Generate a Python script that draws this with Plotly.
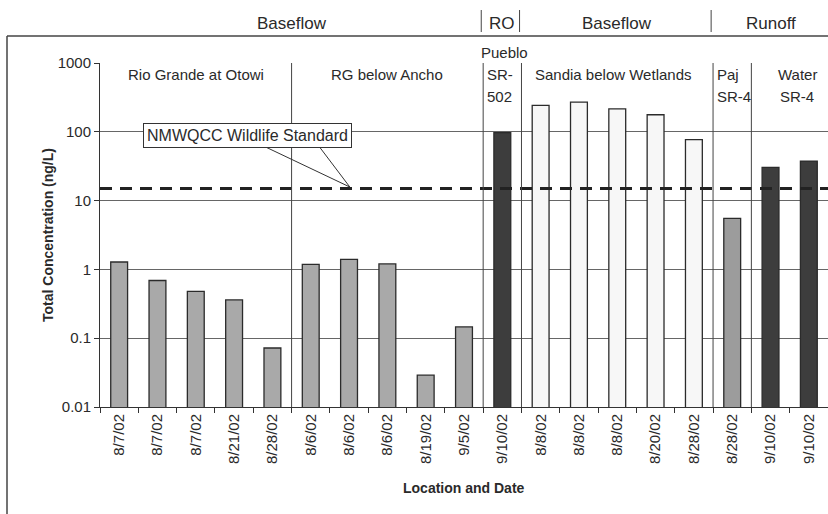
import plotly.graph_objects as go

# ---------------- data ----------------
dates = ["8/7/02", "8/7/02", "8/7/02", "8/21/02", "8/28/02",
         "8/6/02", "8/6/02", "8/6/02", "8/19/02", "9/5/02",
         "9/10/02",
         "8/8/02", "8/8/02", "8/8/02", "8/20/02", "8/28/02",
         "8/28/02",
         "9/10/02", "9/10/02"]
values = [1.28, 0.69, 0.48, 0.36, 0.072,
          1.18, 1.4, 1.2, 0.029, 0.146,
          97,
          242, 270, 215, 177, 77,
          5.5,
          30.5, 37.5]
bar_kind = ["rg"] * 10 + ["dark"] + ["white"] * 5 + ["paj"] + ["dark"] * 2
standard_value = 15
standard_label = "NMWQCC Wildlife Standard"

# location sections: (first index, last index, label lines)
sections = [(0, 4, "Rio Grande at Otowi"),
            (5, 9, "RG below Ancho"),
            (10, 10, "Pueblo SR-502"),
            (11, 15, "Sandia below Wetlands"),
            (16, 16, "Paj SR-4"),
            (17, 18, "Water SR-4")]
# flow regimes: (first index, last index, label)
regimes = [(0, 9, "Baseflow"), (10, 10, "RO"), (11, 15, "Baseflow"), (16, 18, "Runoff")]

y_ticks = [0.01, 0.1, 1, 10, 100, 1000]
y_ticktext = ["0.01", "0.1", "1", "10", "100", "1000"]

colors = {"rg": "#a9a9a9", "dark": "#3d3d3d", "white": "#f7f7f7", "paj": "#9c9c9c"}

# ---------------- figure geometry helpers ----------------
W, H = 828, 514
L, R, T, B = 100, 0, 63, 107
PH = H - T - B
PW = W - L - R


def py(pix):  # pixel y -> paper y
    return (H - B - pix) / PH


def px(pix):  # pixel x -> paper x
    return (pix - L) / PW


FONT = "Liberation Sans, Arial, sans-serif"
TXT = "#2a2a2a"

x = list(range(len(values)))
fig = go.Figure()
fig.add_trace(go.Bar(
    x=x, y=values, width=0.44,
    marker=dict(color=[colors[k] for k in bar_kind],
                line=dict(color="#2b2b2b", width=1.3)),
    showlegend=False,
))

shapes = []
annotations = []


def note(**kw):
    kw.setdefault("showarrow", False)
    kw.setdefault("yanchor", "middle")
    annotations.append(kw)


# dashed standard line
shapes.append(dict(type="line", xref="paper", yref="y", x0=0, x1=1,
                   y0=standard_value, y1=standard_value,
                   line=dict(color="#222", width=3, dash="12px,8px")))

# vertical section dividers inside plot
for s in sections[1:]:
    b = s[0] - 0.5
    shapes.append(dict(type="line", xref="x", yref="paper", x0=b, x1=b, y0=0, y1=1,
                       line=dict(color="#444", width=1)))

# outer border (top and left)
shapes.append(dict(type="line", xref="paper", yref="paper", x0=px(7), x1=1.01,
                   y0=py(36), y1=py(36), line=dict(color="#444", width=1.5)))
shapes.append(dict(type="line", xref="paper", yref="paper", x0=px(7), x1=px(7),
                   y0=py(36), y1=py(520), line=dict(color="#444", width=1.5)))

# regime header dividers and labels
for i, (a, b, lab) in enumerate(regimes):
    note(x=(a + b) / 2, y=py(23), xref="x", yref="paper", text=lab,
         font=dict(size=17, color=TXT, family=FONT))
    if i > 0:
        xb = a - 0.55
        shapes.append(dict(type="line", xref="x", yref="paper", x0=xb, x1=xb,
                           y0=py(10), y1=py(32), line=dict(color="#444", width=1)))

# section labels
sec_font = dict(size=15, color=TXT, family=FONT)
note(x=(sections[0][0] + sections[0][1]) / 2, y=py(75), xref="x", yref="paper",
     text=sections[0][2], font=sec_font)
note(x=(sections[1][0] + sections[1][1]) / 2, y=py(75), xref="x", yref="paper",
     text=sections[1][2], font=sec_font)
p_words = sections[2][2].split(" ")
note(x=sections[2][0] - 0.6, y=py(53), xref="x", yref="paper",
     text=p_words[0], xanchor="left", font=sec_font)
note(x=sections[2][0] - 0.45, y=py(75), xref="x", yref="paper",
     text=p_words[1][:3], xanchor="left", font=sec_font)
note(x=sections[2][0] - 0.45, y=py(97), xref="x", yref="paper",
     text=p_words[1][3:], xanchor="left", font=sec_font)
note(x=(sections[3][0] + sections[3][1]) / 2 - 0.1, y=py(75), xref="x", yref="paper",
     text=sections[3][2], font=sec_font)
pj = sections[4][2].split(" ")
note(x=sections[4][0] - 0.45, y=py(75), xref="x", yref="paper",
     text=pj[0], xanchor="left", font=sec_font)
note(x=sections[4][0] - 0.45, y=py(97), xref="x", yref="paper",
     text=pj[1], xanchor="left", font=sec_font)
wt = sections[5][2].split(" ")
note(x=(sections[5][0] + sections[5][1]) / 2 + 0.2, y=py(75), xref="x", yref="paper",
     text=wt[0], font=sec_font)
note(x=(sections[5][0] + sections[5][1]) / 2 + 0.2, y=py(97), xref="x", yref="paper",
     text=wt[1], font=sec_font)

# callout for the standard
note(x=3.34, y=py(135), xref="x", yref="paper", text=standard_label,
     bordercolor="#333", borderwidth=1, borderpad=3, bgcolor="white",
     font=dict(size=16, color=TXT, family=FONT))
shapes.append(dict(type="line", xref="x", yref="paper", x0=3.85, y0=py(147.5),
                   x1=6.02, y1=py(187), line=dict(color="#333", width=1)))
shapes.append(dict(type="line", xref="x", yref="paper", x0=5.24, y0=py(147.5),
                   x1=6.02, y1=py(187), line=dict(color="#333", width=1)))

# axis titles
note(x=px(38), y=0.5, xref="paper", yref="paper", textangle=-90,
     text="<b>Total Concentration (ng/L)</b>", font=dict(size=14, color=TXT, family=FONT))
note(x=0.5, y=py(488), xref="paper", yref="paper",
     text="<b>Location and Date</b>", font=dict(size=14, color=TXT, family=FONT))

fig.update_layout(
    width=W, height=H,
    margin=dict(l=L, r=R, t=T, b=B, pad=0),
    paper_bgcolor="white", plot_bgcolor="white",
    bargap=0.5,
    shapes=shapes, annotations=annotations,
    font=dict(family=FONT, color=TXT),
)
fig.update_xaxes(
    range=[-0.5, len(values) - 0.5], tickmode="array", tickvals=x, ticktext=dates,
    tickangle=-90, ticks="", showgrid=False, zeroline=False,
    showline=True, linecolor="#333", linewidth=1,
    tickfont=dict(size=15, color=TXT, family=FONT),
    minor=dict(ticks="outside", tick0=0.5, dtick=1, ticklen=5, tickcolor="#333", showgrid=False),
)
fig.update_yaxes(
    type="log", range=[-2, 3], tickmode="array", tickvals=y_ticks, ticktext=y_ticktext,
    ticks="outside", ticklen=5, tickcolor="#333",
    showgrid=True, gridcolor="#666", gridwidth=1, zeroline=False,
    showline=True, linecolor="#333", linewidth=1,
    tickfont=dict(size=15, color=TXT, family=FONT),
)

fig.write_html("out.html")
